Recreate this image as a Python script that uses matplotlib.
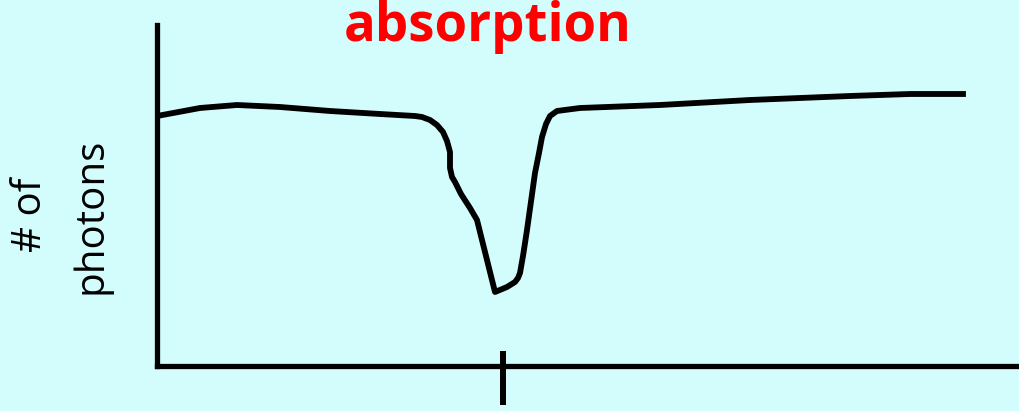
import matplotlib
matplotlib.use("Agg")
import matplotlib.pyplot as plt

# spectrum (x = wavelength, y = # of photons, arbitrary units)
wavelength = [0, 43, 80, 123, 173, 223, 258, 265, 273, 280, 286, 290, 293,
              293, 295, 298, 304, 313, 320, 338, 350, 358, 361, 363, 366,
              370, 378, 382, 385, 389, 393, 400, 423, 503, 593, 693, 753, 806]
photons = [250, 258, 261, 259, 255, 252, 250, 249, 246, 241, 234, 225, 214,
           198, 189, 184, 172, 158, 146, 74, 79, 84, 88, 93, 110,
           136, 193, 213, 229, 242, 250, 255, 258, 261, 266, 270, 272, 272]
line_position = 346

bg = "#d3fdfd"
fig = plt.figure(figsize=(10.19, 4.11), dpi=100, facecolor=bg)
ax = fig.add_axes([157 / 1019, 45 / 411, 862 / 1019, 341 / 411], facecolor=bg)

ax.plot(wavelength, photons, color="black", lw=4.2, solid_joinstyle="round")
ax.set_xlim(0, 862)
ax.set_ylim(0, 341)

for s in ["top", "right"]:
    ax.spines[s].set_visible(False)
ax.spines["left"].set_linewidth(3.8)
ax.spines["bottom"].set_linewidth(3.8)

ax.set_yticks([])
ax.set_xticks([line_position])
ax.set_xticklabels([""])
# small offset so the inward tick is not dropped as a duplicate
ax.set_xticks([line_position + 0.01], minor=True)
ax.tick_params(axis="x", which="major", direction="out", length=28, width=4.3)
ax.tick_params(axis="x", which="minor", direction="in", length=11, width=4.3)

fig.text(488 / 1019, 1 - 27 / 411, "absorption", color="#ff0000",
         fontsize=38, fontweight="bold", family="Open Sans",
         ha="center", va="center")
fig.text(31 / 1019, 1 - 215 / 411, "# of", fontsize=29, family="Open Sans",
         rotation=90, ha="center", va="center")
fig.text(91 / 1019, 1 - 216 / 411, "photons", fontsize=29, family="Open Sans",
         rotation=90, ha="center", va="center")

fig.savefig("out.png", dpi=100, facecolor=bg)
